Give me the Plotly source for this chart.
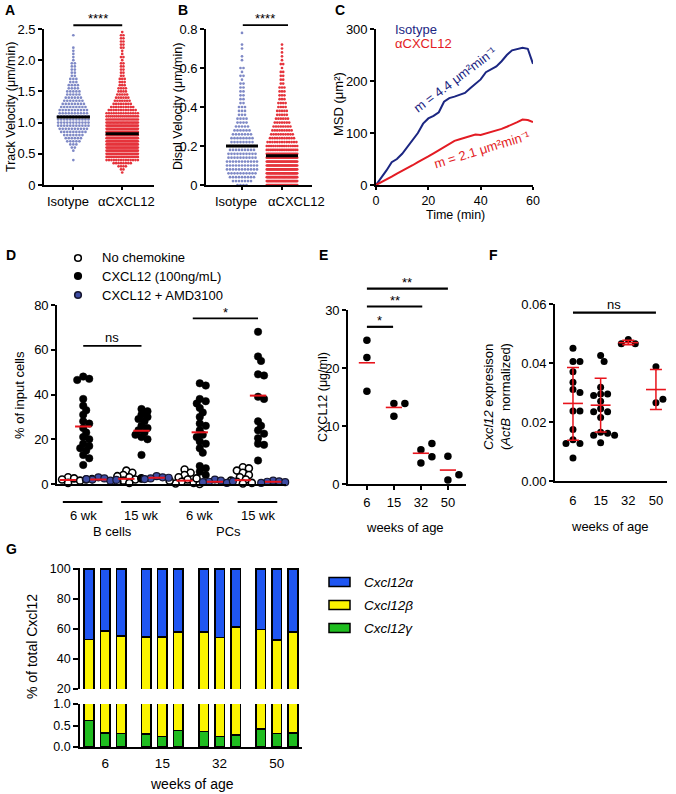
import plotly.graph_objects as go

W, H = 676, 794
FONT = "Liberation Sans, Arial, sans-serif"

# ======================= DATA =======================
# A: track velocity (um/min), cells counted per 0.05 bin
A_bins = [0.20, 0.25, 0.30, 0.35, 0.40, 0.45, 0.50, 0.55, 0.60, 0.65, 0.70, 0.75,
          0.80, 0.85, 0.90, 0.95, 1.00, 1.05, 1.10, 1.15, 1.20, 1.25, 1.30, 1.35,
          1.40, 1.45, 1.50, 1.55, 1.60, 1.65, 1.70, 1.75, 1.80, 1.85, 1.90, 1.95,
          2.00, 2.05, 2.10, 2.15, 2.20, 2.25, 2.30, 2.35, 2.40, 2.45]
A_iso_counts = [0, 0, 0, 0, 1, 0, 0, 1, 2, 3, 5, 6, 7, 9, 10, 11, 11, 11, 11, 10, 10, 9,
                8, 7, 6, 5, 5, 4, 4, 3, 3, 2, 2, 2, 2, 2, 1, 1, 1, 1, 1, 0, 0, 0, 1, 0]
A_cx_counts = [1, 2, 4, 8, 14, 20, 26, 30, 32, 34, 34, 34, 33, 32, 30, 27, 24, 20, 17, 14, 12, 10,
               8, 7, 6, 5, 4, 4, 3, 3, 3, 2, 2, 2, 2, 2, 1, 2, 1, 1, 2, 2, 2, 2, 2, 1]
A_means = [1.09, 0.82]
AB_groups = ["Isotype", "αCXCL12"]

# B: displacement velocity (um/min), cells per 0.02 bin
B_bins = [0.00, 0.02, 0.04, 0.06, 0.08, 0.10, 0.12, 0.14, 0.16, 0.18, 0.20, 0.22, 0.24, 0.26,
          0.28, 0.30, 0.32, 0.34, 0.36, 0.38, 0.40, 0.42, 0.44, 0.46, 0.48, 0.50, 0.52, 0.54,
          0.56, 0.58, 0.60, 0.62, 0.64, 0.66, 0.68, 0.70, 0.72, 0.74, 0.76, 0.78]
B_iso_counts = [4, 7, 9, 10, 11, 11, 11, 10, 10, 9, 9, 8, 8, 7, 6, 5, 4, 4, 3, 3,
                3, 2, 2, 2, 2, 2, 2, 1, 2, 1, 2, 0, 1, 1, 0, 1, 1, 0, 0, 1]
B_cx_counts = [30, 36, 38, 38, 36, 34, 30, 26, 22, 18, 15, 13, 11, 10, 9, 8, 7, 6, 5, 5,
               4, 4, 3, 3, 3, 3, 2, 2, 2, 2, 1, 2, 1, 1, 1, 1, 1, 0, 0, 0]
B_means = [0.20, 0.15]

# C: MSD (um^2) vs time (min)
C_time = [0, 2, 4, 6, 8, 10, 12, 14, 16, 18, 20, 22, 24, 26, 28, 30,
          32, 34, 36, 38, 40, 42, 44, 46, 48, 50, 52, 54, 56, 58, 60]
C_iso = [0, 13, 28, 44, 50, 60, 74, 87, 100, 118, 128, 133, 140, 160, 167, 170,
         173, 177, 186, 194, 203, 217, 223, 228, 238, 250, 259, 262, 264, 262, 233]
C_cx = [0, 5, 11, 16, 22, 27, 33, 38, 44, 49, 55, 61, 67, 73, 80, 85,
        88, 91, 95, 97, 96, 99, 102, 104, 108, 112, 116, 121, 126, 125, 121]

# D: % of input cells migrating
D_groups = ["6 wk", "15 wk", "6 wk", "15 wk"]
D_cells = ["B cells", "PCs"]
D_none = [[3, 2.5, 2, 1.5, 1, 0.5, 2, 3, 1, 2.2],
          [6, 5, 4, 3.5, 3, 2, 1.5, 1, 0.5, 2.5],
          [6.5, 5, 4, 3, 2, 1, 0.5, 0.2, 0, 1.5, 2.5],
          [7.5, 7, 6, 5, 4, 3, 2, 1, 0.5, 0.2, 1.5]]
D_cxcl12 = [[48, 47, 46.5, 38, 35, 33, 31, 28, 27, 25, 23, 21, 20, 18, 17, 16, 15, 13, 11.5, 8.5],
            [33.5, 32.5, 31, 30, 29, 28, 26, 25, 24, 23, 22, 21, 20, 13, 2.5],
            [45, 44, 38, 37, 36, 34, 32, 30, 27, 26, 24, 22, 21, 19, 18, 16, 14, 8, 7, 5.5, 4],
            [68, 57, 55, 49, 48.5, 39, 38, 28, 26, 24, 22.5, 20.5, 18, 17.5, 10.5]]
D_amd = [[3, 2.5, 2, 1.5, 2.2, 1.8],
         [3.5, 3, 2.5, 2.8, 2.2],
         [2, 1.5, 1, 0.5, 0.8, 1.2],
         [1.5, 1.2, 1, 0.8, 0.5]]
D_mean_none = [1.8, 2.3, 1.5, 1.7]
D_mean_cxcl12 = [25.7, 23.8, 23.1, 39.5]
D_mean_amd = [2.0, 2.8, 1.0, 1.0]

# E: CXCL12 (ug/ml) by age
AGE_LABELS = ["6", "15", "32", "50"]
E_vals = [[24.8, 21.8, 16.0], [13.9, 11.7, 13.9], [5.9, 3.6, 7.0, 4.7], [4.8, 0.7, 1.6]]
E_means = [20.9, 13.2, 5.3, 2.4]

# F: Cxcl12 expression (ActB normalized)
F_vals = [[0.045, 0.0405, 0.0405, 0.037, 0.0335, 0.031, 0.030, 0.0237, 0.0237, 0.0175,
           0.014, 0.0127, 0.0127, 0.0078],
          [0.0425, 0.0405, 0.0318, 0.0295, 0.0295, 0.029, 0.027, 0.0245, 0.0235, 0.0235,
           0.0215, 0.0165, 0.0162, 0.0155, 0.0155, 0.013],
          [0.048, 0.0465, 0.0465],
          [0.0387, 0.0265, 0.0277]]
F_means = [0.0263, 0.0257, 0.0469, 0.031]
F_err_hi = [0.0385, 0.0348, 0.0477, 0.0378]
F_err_lo = [0.0138, 0.0166, 0.0462, 0.0242]

# G: isoform share (% of total Cxcl12), 3 mice per age
G_alpha = [46.9, 41.4, 44.7, 45.2, 45.4, 42.1, 42.1, 45.6, 38.6, 40.3, 47.4, 42.1]
G_gamma = [0.62, 0.32, 0.31, 0.30, 0.24, 0.38, 0.36, 0.24, 0.28, 0.42, 0.31, 0.33]
G_beta = [round(100 - a - g, 2) for a, g in zip(G_alpha, G_gamma)]
G_iso_names = ["Cxcl12α", "Cxcl12β", "Cxcl12γ"]

# ======================= STYLE =======================
ISO_DOT = "#7f89c6"
CX_DOT = "#e5333b"
NAVY = "#1b2682"
RED = "#e31b23"
MEANRED = "#e8141c"
AMD_BLUE = "#3d4ca3"
G_COLORS = ["#1f56f2", "#fbf400", "#1fbd1f"]
FS = 13


def px2p(x, y):
    return x / W, 1 - y / H


def xdom(a, b):
    return [a / W, b / W]


def ydom(top, bottom):
    return [1 - bottom / H, 1 - top / H]


def axis(domain, rng, anchor, **kw):
    d = dict(domain=domain, range=rng, anchor=anchor, showline=True, linecolor="black",
             linewidth=1.6, ticks="outside", ticklen=4, tickwidth=1.6, tickcolor="black",
             showgrid=False, zeroline=False, fixedrange=True, automargin=False, tickangle=0,
             tickfont=dict(size=FS, color="black", family=FONT))
    d.update(kw)
    return d


def swarm_rows(bins, counts, spacing, max_half):
    xs, ys = [], []
    for v, n in zip(bins, counts):
        if n == 0:
            continue
        sp = spacing if n == 1 else min(spacing, 2 * max_half / (n - 1))
        for i in range(n):
            xs.append((i - (n - 1) / 2) * sp)
            ys.append(v)
    return xs, ys


def beeswarm(vals, ppu_x, ppu_y, dmin, step, maxk=8):
    placed, offs = [], []
    for v in vals:
        yp = v * ppu_y
        best = None
        for k in range(0, maxk + 1):
            for s in ([0] if k == 0 else [1, -1]):
                xp = s * k * step
                if all((xp - a) ** 2 + (yp - b) ** 2 >= dmin ** 2 for a, b in placed):
                    best = xp
                    break
            if best is not None:
                break
        if best is None:
            best = 0
        placed.append((best, yp))
        offs.append(best / ppu_x)
    return offs


fig = go.Figure()
layout = dict(width=W, height=H, margin=dict(l=0, r=0, t=0, b=0, autoexpand=False),
              paper_bgcolor="white", plot_bgcolor="white", showlegend=False,
              font=dict(family=FONT, size=FS, color="black"), barmode="stack",
              annotations=[], shapes=[])
ann = layout["annotations"]
shp = layout["shapes"]


def text(x, y, s, size=FS, color="black", angle=0, xa="center", ya="middle", bold=False):
    xp, yp = px2p(x, y)
    if bold:
        s = "<b>" + s + "</b>"
    ann.append(dict(x=xp, y=yp, xref="paper", yref="paper", text=s, showarrow=False,
                    xanchor=xa, yanchor=ya, textangle=angle,
                    font=dict(size=size, color=color, family=FONT)))


def to_paper(ax, v):
    dom, rng = ax["domain"], ax["range"]
    return dom[0] + (v - rng[0]) / (rng[1] - rng[0]) * (dom[1] - dom[0])


def sig_bar(xa, ya, x0, x1, yv, label, width=1.8, gap=7, size=FS):
    X0, X1 = to_paper(xa, x0), to_paper(xa, x1)
    Y = to_paper(ya, yv)
    shp.append(dict(type="line", xref="paper", yref="paper", x0=X0, x1=X1, y0=Y, y1=Y,
                    line=dict(color="black", width=width)))
    ann.append(dict(x=(X0 + X1) / 2, y=Y + gap / H, xref="paper", yref="paper", text=label,
                    showarrow=False, xanchor="center", yanchor="middle",
                    font=dict(size=size, color="black", family=FONT)))


# ---------------- Panel A ----------------
xa1 = axis(xdom(44, 154), [-0.6, 1.65], "y", tickvals=[0, 1], showticklabels=False, ticklen=3)
ya1 = axis(ydom(29, 185), [0, 2.5], "x", tickvals=[0, 0.5, 1, 1.5, 2, 2.5],
           ticktext=["0", "0.5", "1.0", "1.5", "2.0", "2.5"])
layout["xaxis"], layout["yaxis"] = xa1, ya1
for gi, (counts, col, sp) in enumerate([(A_iso_counts, ISO_DOT, 0.062), (A_cx_counts, CX_DOT, 0.05)]):
    xs, ys = swarm_rows(A_bins, counts, sp, 0.32)
    fig.add_trace(go.Scatter(x=[gi + v for v in xs], y=ys, mode="markers", xaxis="x", yaxis="y",
                             marker=dict(size=2.7, color=col, line=dict(width=0)), hoverinfo="skip"))
for gi, m in enumerate(A_means):
    fig.add_trace(go.Scatter(x=[gi - 0.34, gi + 0.34], y=[m, m], mode="lines", xaxis="x", yaxis="y",
                             line=dict(color="black", width=3), hoverinfo="skip"))
sig_bar(xa1, ya1, 0, 1, 2.56, "****")
text(67.5, 202, AB_groups[0])
text(127, 202, AB_groups[1])
text(11, 107, "Track Velocity (μm/min)", size=12.5, angle=-90)
text(3, 10, "A", size=14, bold=True, xa="left")

# ---------------- Panel B ----------------
xa2 = axis(xdom(206, 312), [-0.9, 1.75], "y2", tickvals=[0, 1], showticklabels=False, ticklen=3)
ya2 = axis(ydom(29, 185), [0, 0.8], "x2", tickvals=[0, 0.2, 0.4, 0.6, 0.8],
           ticktext=["0", "0.2", "0.4", "0.6", "0.8"])
layout["xaxis2"], layout["yaxis2"] = xa2, ya2
for gi, (counts, col, sp) in enumerate([(B_iso_counts, ISO_DOT, 0.075), (B_cx_counts, CX_DOT, 0.06)]):
    xs, ys = swarm_rows(B_bins, counts, sp, 0.38)
    fig.add_trace(go.Scatter(x=[gi + v for v in xs], y=ys, mode="markers", xaxis="x2", yaxis="y2",
                             marker=dict(size=2.7, color=col, line=dict(width=0)), hoverinfo="skip"))
for gi, m in enumerate(B_means):
    fig.add_trace(go.Scatter(x=[gi - 0.4, gi + 0.4], y=[m, m], mode="lines", xaxis="x2", yaxis="y2",
                             line=dict(color="black", width=3), hoverinfo="skip"))
sig_bar(xa2, ya2, 0.02, 1.15, 0.82, "****")
text(236, 202, AB_groups[0])
text(296, 202, AB_groups[1])
text(178, 107, "Displ Velocity (μm/min)", size=12.5, angle=-90)
text(176, 10, "B", size=14, bold=True, xa="left")

# ---------------- Panel C ----------------
xa3 = axis(xdom(376, 533), [0, 60], "y3", tickvals=[0, 20, 40, 60], ticklabelstandoff=0,
           ticklen=3, tickfont=dict(size=12.5, color="black", family=FONT))
ya3 = axis(ydom(29, 185), [0, 300], "x3", tickvals=[0, 100, 200, 300])
layout["xaxis3"], layout["yaxis3"] = xa3, ya3
fig.add_trace(go.Scatter(x=C_time, y=C_iso, mode="lines", xaxis="x3", yaxis="y3",
                         line=dict(color=NAVY, width=2), hoverinfo="skip"))
fig.add_trace(go.Scatter(x=C_time, y=C_cx, mode="lines", xaxis="x3", yaxis="y3",
                         line=dict(color=RED, width=2), hoverinfo="skip"))
text(393, 29, "Isotype", color=NAVY, xa="left")
text(393, 43, "αCXCL12", color=RED, xa="left")
text(455, 79, "m = 4.4 μm²min⁻¹", color=NAVY, angle=-37)
text(482, 149, "m = 2.1 μm²min⁻¹", color=RED, angle=-17)
text(338, 104, "MSD (μm²)", angle=-90)
text(455, 215, "Time (min)", size=12.5)
text(333, 10, "C", size=14, bold=True, xa="left")

# ---------------- Panel D ----------------
xa4 = axis(xdom(57, 286), [-0.45, 3.48], "y4", ticks="", showticklabels=False)
ya4 = axis(ydom(305, 484), [0, 80], "x4", tickvals=[0, 20, 40, 60, 80])
layout["xaxis4"], layout["yaxis4"] = xa4, ya4
ppx4, ppy4 = 58.3, 179 / 80
OFF = 0.26
series_D = [
    (D_none, -OFF, dict(size=7, color="white", line=dict(color="black", width=1.6))),
    (D_cxcl12, 0.0, dict(size=7.5, color="black", line=dict(color="black", width=0.5))),
    (D_amd, OFF, dict(size=7, color=AMD_BLUE, line=dict(color="#161630", width=1.2))),
]
for vals_all, off, mk in series_D:
    xs, ys = [], []
    for g, vals in enumerate(vals_all):
        offs = beeswarm(vals, ppx4, ppy4, 5.0, 3.0)
        xs += [g + off + o for o in offs]
        ys += vals
    fig.add_trace(go.Scatter(x=xs, y=ys, mode="markers", xaxis="x4", yaxis="y4", marker=mk,
                             cliponaxis=False, hoverinfo="skip"))
for means, off in [(D_mean_none, -OFF), (D_mean_cxcl12, 0.0), (D_mean_amd, OFF)]:
    for g, m in enumerate(means):
        fig.add_trace(go.Scatter(x=[g + off - 0.14, g + off + 0.14], y=[m, m], mode="lines",
                                 xaxis="x4", yaxis="y4", line=dict(color=MEANRED, width=2),
                                 hoverinfo="skip"))
for g, lab in enumerate(D_groups):
    X0, X1 = to_paper(xa4, g - 0.35), to_paper(xa4, g + 0.33)
    shp.append(dict(type="line", xref="paper", yref="paper", x0=X0, x1=X1,
                    y0=1 - 502 / H, y1=1 - 502 / H, line=dict(color="black", width=1.8)))
    ann.append(dict(x=to_paper(xa4, g), y=1 - 515 / H, xref="paper", yref="paper",
                    text=lab, showarrow=False, xanchor="center", yanchor="middle",
                    font=dict(size=FS, color="black", family=FONT)))
for k, lab in enumerate(D_cells):
    ann.append(dict(x=to_paper(xa4, 2 * k + 0.5), y=1 - 531 / H, xref="paper", yref="paper",
                    text=lab, showarrow=False, xanchor="center", yanchor="middle",
                    font=dict(size=FS, color="black", family=FONT)))
sig_bar(xa4, ya4, 0, 1.0, 61.7, "ns", gap=8)
sig_bar(xa4, ya4, 1.88, 3.0, 74.0, "*", gap=6)
leg_D = [("No chemokine", "white", "black"), ("CXCL12 (100ng/mL)", "black", "black"),
         ("CXCL12 + AMD3100", AMD_BLUE, "#161630")]
for i, (lab, fc, lc) in enumerate(leg_D):
    yy = [258, 276, 295][i]
    shp.append(dict(type="circle", xref="paper", yref="paper",
                    x0=(78 - 3.3) / W, x1=(78 + 3.3) / W, y0=1 - (yy + 3.3) / H, y1=1 - (yy - 3.3) / H,
                    fillcolor=fc, line=dict(color=lc, width=1.6)))
    text(100, yy, lab, xa="left")
text(20, 395, "% of input cells", angle=-90)
text(4, 255, "D", size=14, bold=True, xa="left")

# ---------------- Panel E ----------------
xa5 = axis(xdom(348, 466), [-0.7, 3.67], "y5", tickvals=[0, 1, 2, 3], ticktext=AGE_LABELS,
           ticklen=4, ticklabelstandoff=2)
ya5 = axis(ydom(310, 484), [0, 30], "x5", tickvals=[0, 10, 20, 30])
layout["xaxis5"], layout["yaxis5"] = xa5, ya5
xs, ys = [], []
for g, vals in enumerate(E_vals):
    offs = beeswarm(vals, 27, 174 / 30, 8.5, 5.5)
    xs += [g + o for o in offs]
    ys += vals
fig.add_trace(go.Scatter(x=xs, y=ys, mode="markers", xaxis="x5", yaxis="y5", cliponaxis=False,
                         marker=dict(size=7.5, color="black"), hoverinfo="skip"))
for g, m in enumerate(E_means):
    fig.add_trace(go.Scatter(x=[g - 0.3, g + 0.3], y=[m, m], mode="lines", xaxis="x5", yaxis="y5",
                             line=dict(color=MEANRED, width=1.6), hoverinfo="skip"))
sig_bar(xa5, ya5, 0, 0.97, 27.1, "*", width=2.2, gap=6)
sig_bar(xa5, ya5, 0, 2.05, 30.6, "**", width=2.2, gap=6)
sig_bar(xa5, ya5, 0, 3.0, 33.7, "**", width=2.2, gap=6)
text(323, 397, "CXCL12 (μg/ml)", size=12.5, angle=-90)
text(405, 527, "weeks of age")
text(317, 255, "E", size=14, bold=True, xa="left")

# ---------------- Panel F ----------------
xa6 = axis(xdom(555, 667), [-0.65, 3.4], "y6", tickvals=[0, 1, 2, 3], ticktext=AGE_LABELS,
           ticks="", ticklabelstandoff=7)
ya6 = axis(ydom(304, 481), [0, 0.06], "x6", tickvals=[0, 0.02, 0.04, 0.06],
           ticktext=["0.00", "0.02", "0.04", "0.06"])
layout["xaxis6"], layout["yaxis6"] = xa6, ya6
xs, ys = [], []
for g, vals in enumerate(F_vals):
    offs = beeswarm(vals, 27.7, 177 / 0.06, 6.0, 3.5)
    xs += [g + o for o in offs]
    ys += vals
fig.add_trace(go.Scatter(x=xs, y=ys, mode="markers", xaxis="x6", yaxis="y6", cliponaxis=False,
                         marker=dict(size=7, color="black"), hoverinfo="skip"))
fig.add_trace(go.Scatter(x=list(range(4)), y=F_means, mode="markers", xaxis="x6", yaxis="y6",
                         marker=dict(size=1, color="rgba(0,0,0,0)"),
                         error_y=dict(type="data", symmetric=False,
                                      array=[h - m for h, m in zip(F_err_hi, F_means)],
                                      arrayminus=[m - l for l, m in zip(F_err_lo, F_means)],
                                      color=MEANRED, thickness=1.5, width=6),
                         hoverinfo="skip"))
for g, m in enumerate(F_means):
    fig.add_trace(go.Scatter(x=[g - 0.36, g + 0.36], y=[m, m], mode="lines", xaxis="x6", yaxis="y6",
                             line=dict(color=MEANRED, width=1.6), hoverinfo="skip"))
sig_bar(xa6, ya6, 0, 3.0, 0.0571, "ns", width=2.2, gap=8)
text(488, 397, "<i>Cxcl12</i> expresison", angle=-90)
text(505, 397, "(<i>ActB</i>  normalized)", angle=-90)
text(610, 526, "weeks of age")
text(487, 255, "F", size=14, bold=True, xa="left")

# ---------------- Panel G ----------------
GF = 13.5
GY = 12.5
G_x = [g + o for g in range(4) for o in (-0.28, 0.0, 0.28)]
xa8 = axis(xdom(80, 302), [-0.44, 3.44], "y8", tickvals=[0, 1, 2, 3], ticktext=AGE_LABELS,
           ticks="", ticklabelstandoff=3, tickfont=dict(size=GF, color="black", family=FONT))
ya8 = axis(ydom(704, 747), [0, 1], "x8", tickvals=[0, 0.5, 1], ticktext=["0.0", "0.5", "1.0"],
           tickfont=dict(size=GY, color="black", family=FONT), ticklen=5)
xa7 = dict(domain=xa8["domain"], range=xa8["range"], anchor="y7", matches="x8", visible=False,
           fixedrange=True)
ya7 = axis(ydom(567.5, 689), [20, 101], "x7", tickvals=[20, 40, 60, 80, 100],
           tickfont=dict(size=GY, color="black", family=FONT), ticklen=5)
layout["xaxis7"], layout["yaxis7"] = xa7, ya7
layout["xaxis8"], layout["yaxis8"] = xa8, ya8
for xr, yr in [("x8", "y8"), ("x7", "y7")]:
    for vals, col in [(G_gamma, G_COLORS[2]), (G_beta, G_COLORS[1]), (G_alpha, G_COLORS[0])]:
        fig.add_trace(go.Bar(x=G_x, y=vals, width=0.17, xaxis=xr, yaxis=yr,
                             marker=dict(color=col, line=dict(color="black", width=1.6)),
                             hoverinfo="skip"))
for i, (lab, col) in enumerate(zip(G_iso_names, G_COLORS)):
    yy = [582, 605, 628][i]
    shp.append(dict(type="rect", xref="paper", yref="paper", x0=329 / W, x1=350 / W,
                    y0=1 - (yy + 4.5) / H, y1=1 - (yy - 4.5) / H, fillcolor=col,
                    line=dict(color="black", width=1.5)))
    text(362, yy, "<i>" + lab + "</i>", size=13.5, xa="left")
text(32, 647, "% of total Cxcl12", size=14, angle=-90)
text(192, 784, "weeks of age", size=14)
text(4, 549, "G", size=14, bold=True, xa="left")

fig.update_layout(**layout)
fig.write_html("out.html", config={"displayModeBar": False},
               post_script="document.body.style.margin='0';document.body.style.padding='0';"
                           "document.body.style.overflow='hidden';")
